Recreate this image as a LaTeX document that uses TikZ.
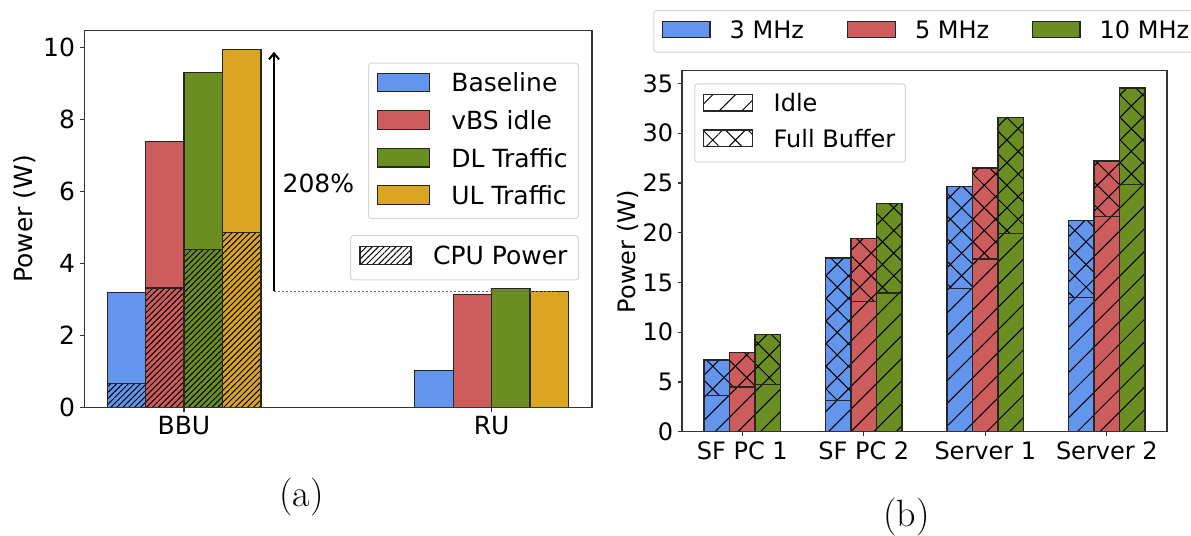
\documentclass[tikz,border=0pt]{standalone}
\usepackage{fontspec}
\newfontfamily\plotfont{DejaVu Sans}
\usetikzlibrary{patterns.meta,arrows.meta}

\definecolor{baseblue}{RGB}{100,149,237}
\definecolor{idlered}{RGB}{205,92,92}
\definecolor{dlgreen}{RGB}{107,142,35}
\definecolor{ulyellow}{RGB}{218,165,32}
\colorlet{mhz1}{baseblue}
\colorlet{mhz2}{idlered}
\colorlet{mhz3}{dlgreen}

\tikzset{
  bar/.style={draw=black!85, line width=0.6pt},
  axisframe/.style={draw=black!80, line width=0.7pt},
  axistick/.style={draw=black!80, line width=0.6pt},
  cpuhatch/.style={pattern={Lines[angle=45,distance=2.1pt,line width=0.5pt]}, pattern color=black},
  idlehatch/.style={pattern={Lines[angle=45,distance=8pt,line width=0.5pt]}, pattern color=black},
  fullhatch/.style={pattern={Hatch[angle=45,distance=8pt,line width=0.5pt]}, pattern color=black},
  legendbox/.style={draw=black!16, fill=white, rounded corners=1.5pt, line width=0.5pt, inner sep=0pt},
  swatch/.style={draw=black!85, line width=0.6pt, inner sep=0pt},
  plotlabel/.style={font=\plotfont\fontsize{12.5}{15}\selectfont, inner sep=0pt},
  plotlabelb/.style={font=\plotfont\fontsize{12}{14}\selectfont, inner sep=0pt},
}

\begin{document}
\begin{tikzpicture}[x=0.5pt, y=-0.5pt]
  \useasboundingbox (0,0) rectangle (1191,536);

  % (a) BBU and RU power
  \begin{scope}[shift={(184,407.5)}, x=153.8pt, y=18pt]
    % BBU bars, CPU share hatched
    \foreach \xl/\col/\tot/\cpu in {-0.25/baseblue/3.2/0.67, -0.125/idlered/7.4/3.32, 0/dlgreen/9.3/4.38, 0.125/ulyellow/9.95/4.87} {
      \fill[\col] (\xl,0) rectangle ++(0.125,\tot);
      \fill[cpuhatch] (\xl,0) rectangle ++(0.125,\cpu);
      \draw[bar] (\xl,0) rectangle ++(0.125,\cpu);
      \draw[bar] (\xl,0) rectangle ++(0.125,\tot);
    }
    % RU bars
    \foreach \xl/\col/\tot in {0.75/baseblue/1.03, 0.875/idlered/3.15, 1/dlgreen/3.3, 1.125/ulyellow/3.22}
      \draw[bar, fill=\col] (\xl,0) rectangle ++(0.125,\tot);

    % gain arrow
    \coordinate (gainbase) at (0.2926,3.23);
    \coordinate (gaintop) at (0.2926,9.88);
    \coordinate (rulevel) at (1.213,3.23);
    \draw[black!60, line width=0.5pt, dash pattern=on 1pt off 1pt] (gainbase) -- (rulevel);
    \draw[-{Straight Barb[length=3pt,width=5pt]}, line width=1pt] (gainbase) -- (gaintop) node[plotlabel, pos=0.45, right, xshift=3.8pt] (gainlabel) {208\%};

    % axes
    \draw[axisframe] (-0.324,0) rectangle (1.326,10.47);
    \foreach \v in {0,2,...,10} {
      \draw[axistick] (-0.324,\v) -- ++(-2pt,0);
      \node[plotlabel, anchor=east, xshift=-4.5pt] (ya\v) at (-0.324,\v) {\v};
    }
    \foreach \xc/\name in {0/BBU, 1/RU} {
      \draw[axistick] (\xc,0) -- ++(0,-2pt);
      \node[plotlabel, anchor=north, yshift=-4.2pt] (\name) at (\xc,0) {\name};
    }
  \end{scope}
  \node[plotlabel, rotate=90] (ylabela) at (25,219) {Power (W)};

  % legends of (a)
  \node[legendbox, minimum width=105pt, minimum height=77.7pt, anchor=north west] (trafficlegend) at (368,62.7) {};
  \foreach \col/\txt/\yy [count=\i] in {baseblue/Baseline/82.4, idlered/vBS idle/120, dlgreen/DL Traffic/157.8, ulyellow/UL Traffic/195} {
    \node[swatch, fill=\col, minimum width=25.8pt, minimum height=9.2pt] (swa\i) at (403.5,\yy) {};
    \node[plotlabel, anchor=west] (lga\i) at (451,\yy) {\txt};
  }
  \node[legendbox, minimum width=114pt, minimum height=22.2pt, anchor=north west] (cpulegend) at (350,235) {};
  \node[swatch, cpuhatch, minimum width=25.5pt, minimum height=8.7pt] (swcpu) at (385.5,255.4) {};
  \node[plotlabel, anchor=west] (lgcpu) at (432.7,255.4) {CPU Power};

  % (b) power per machine and bandwidth
  \begin{scope}[shift={(742.3,431.7)}, x=60.75pt, y=4.975pt]
    \foreach \grp/\vals in {0/{7.2/3.6, 8.0/4.5, 9.8/4.75}, 1/{17.45/3.15, 19.4/13.05, 22.9/13.95}, 2/{24.65/14.4, 26.5/17.35, 31.55/19.95}, 3/{21.25/13.5, 27.2/21.6, 34.55/24.85}} {
      \foreach \tot/\idle [count=\j] in \vals {
        \pgfmathsetmacro{\xl}{\grp+(\j-2)*0.21-0.105}
        \pgfmathsetmacro{\xr}{\xl+0.21}
        \fill[mhz\j] (\xl,0) rectangle (\xr,\tot);
        \fill[idlehatch] (\xl,0) rectangle (\xr,\idle);
        \fill[fullhatch] (\xl,\idle) rectangle (\xr,\tot);
        \draw[bar] (\xl,0) rectangle (\xr,\idle);
        \draw[bar] (\xl,0) rectangle (\xr,\tot);
      }
    }

    % axes
    \draw[axisframe] (-0.4965,0) rectangle (3.4965,36.28);
    \foreach \v in {0,5,...,35} {
      \draw[axistick] (-0.4965,\v) -- ++(-2pt,0);
      \node[plotlabelb, anchor=east, xshift=-4.2pt] (yb\v) at (-0.4965,\v) {\v};
    }
    \foreach \xc/\name in {0/SF PC 1, 1/SF PC 2, 2/Server 1, 3/Server 2} {
      \draw[axistick] (\xc,0) -- ++(0,-2pt);
      \node[plotlabelb, anchor=north, yshift=-4.7pt] (xb\xc) at (\xc,0) {\name};
    }
  \end{scope}
  \node[plotlabelb, rotate=90] (ylabelb) at (628,251.7) {Power (W)};

  % legends of (b)
  \node[legendbox, minimum width=272pt, minimum height=20.85pt, anchor=north west] (mhzlegend) at (653.3,10) {};
  \foreach \txt/\xx [count=\i] in {3 MHz/686.2, 5 MHz/871.5, 10 MHz/1056.2} {
    \node[swatch, fill=mhz\i, minimum width=23.8pt, minimum height=8pt] (swb\i) at (\xx,29.7) {};
    \node[plotlabelb, anchor=west] (lgb\i) at (\xx+43.1,30) {\txt};
  }
  \node[legendbox, minimum width=105.3pt, minimum height=39.2pt, anchor=north west] (loadlegend) at (694.3,83.3) {};
  \node[swatch, idlehatch, minimum width=24.7pt, minimum height=8.35pt] (swidle) at (728,102.7) {};
  \node[plotlabelb, anchor=west] (lgidle) at (773.3,102.7) {Idle};
  \node[swatch, fullhatch, minimum width=24.7pt, minimum height=8.35pt] (swfull) at (728,138.3) {};
  \node[plotlabelb, anchor=west] (lgfull) at (773.3,138.3) {Full Buffer};

  % captions
  \node[font=\fontsize{19}{23}\selectfont, inner sep=0pt] (capa) at (301.7,496.7) {(a)};
  \node[font=\fontsize{19}{23}\selectfont, inner sep=0pt] (capb) at (906.7,517.5) {(b)};
\end{tikzpicture}
\end{document}
